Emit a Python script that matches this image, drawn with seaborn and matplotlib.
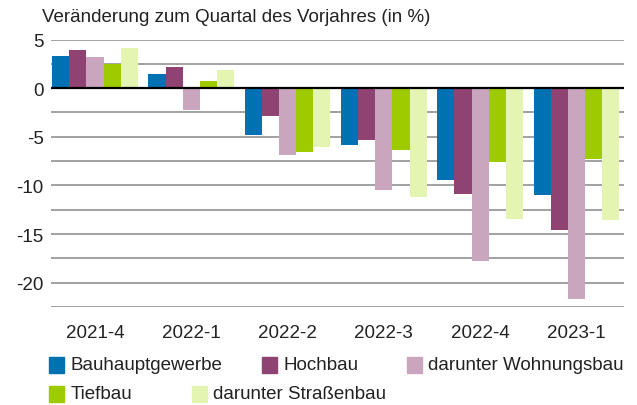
import numpy as np
import pandas as pd
import seaborn as sns
import matplotlib.pyplot as plt
from matplotlib.patches import Rectangle

quarters = ['2021-4', '2022-1', '2022-2', '2022-3', '2022-4', '2023-1']
series = ['Bauhauptgewerbe', 'Hochbau', 'darunter Wohnungsbau', 'Tiefbau', 'darunter Straßenbau']
bauhaupt = [3.3, 1.5, -4.8, -5.8, -9.4, -11.0]
hochbau = [3.9, 2.15, -2.9, -5.3, -10.9, -14.6]
wohnungsbau = [3.2, -2.2, -6.9, -10.5, -17.8, -21.7]
tiefbau = [2.5, 0.7, -6.6, -6.4, -7.6, -7.3]
strassenbau = [4.1, 1.85, -6.0, -11.2, -13.5, -13.6]
colors = ['#0071b1', '#8f4373', '#c9a6be', '#9ecb00', '#e3f5b0']

df = pd.DataFrame({'Quartal': quarters, series[0]: bauhaupt, series[1]: hochbau,
                   series[2]: wohnungsbau, series[3]: tiefbau, series[4]: strassenbau})
long = df.melt(id_vars='Quartal', var_name='Reihe', value_name='Wert')

sns.set_style('white')
plt.rcParams['font.family'] = ['Liberation Sans', 'DejaVu Sans']

W, H = 637, 406
fig = plt.figure(figsize=(W / 100, H / 100), dpi=100)
left, right, top, bottom = 50.7, 624, 40.5, 308
ax = fig.add_axes([left / W, 1 - bottom / H, (right - left) / W, (bottom - top) / H])

ax.set_axisbelow(True)
ax.yaxis.grid(True, color='#9a9a9a', linewidth=1.3, zorder=0)
sns.barplot(data=long, x='Quartal', y='Wert', hue='Reihe', hue_order=series,
            palette=colors, saturation=1, width=0.89, gap=0, ax=ax, legend=False,
            linewidth=0, edgecolor='none', zorder=2)

ax.set_xlim(-0.46, 5.495)
ax.set_ylim(-22.5, 5)
yt = np.arange(-22.5, 5.01, 2.5)
ax.set_yticks(yt)
ax.set_yticklabels([f'{v:g}' if v % 5 == 0 else '' for v in yt])
ax.axhline(0, color='black', linewidth=1.6, zorder=3)
for s in ax.spines.values():
    s.set_visible(False)
ax.tick_params(axis='both', length=0, labelsize=13.5, colors='#222222')
ax.tick_params(axis='x', pad=12)
ax.tick_params(axis='y', pad=5)
ax.set_xlabel('')
ax.set_ylabel('')

fig.text(42 / W, 1 - 18 / H, 'Veränderung zum Quartal des Vorjahres (in %)',
         fontsize=13.5, color='#222222', va='center', ha='left')

# legend laid out like the reference (flowing rows)
items = [(0, 49, 366), (1, 262, 366), (2, 407, 366), (3, 49, 395), (4, 191.5, 395)]
for i, x, y in items:
    fig.patches.append(Rectangle((x / W, 1 - (y + 8) / H), 15 / W, 16 / H,
                                 transform=fig.transFigure, color=colors[i]))
    fig.text((x + 21.5) / W, 1 - y / H, series[i], fontsize=13.5, color='#222222',
             va='center', ha='left')

fig.savefig('out.png', dpi=100)
